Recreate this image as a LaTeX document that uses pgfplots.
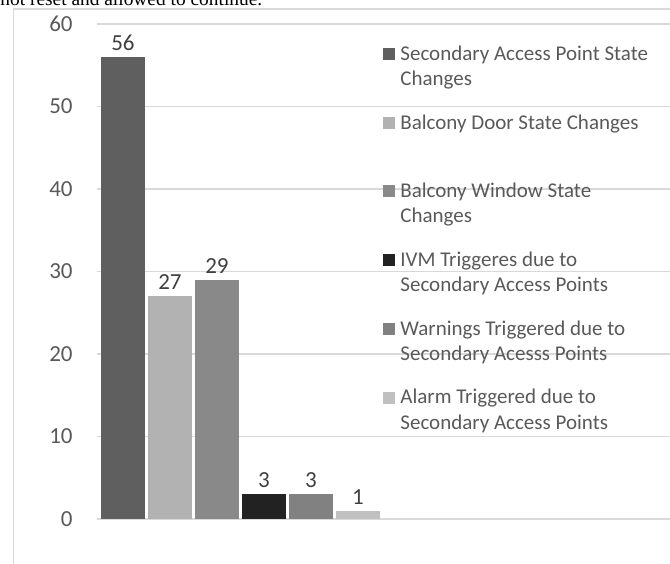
\documentclass[border=0pt]{standalone}
\usepackage{pgfplots}
\pgfplotsset{compat=1.18}
\usepackage{fontspec}
\setmainfont{Carlito}
\newfontfamily\timesfont{Liberation Serif}
\definecolor{c1}{HTML}{5F5F5F}
\definecolor{c2}{HTML}{B2B2B2}
\definecolor{c3}{HTML}{898989}
\definecolor{c4}{HTML}{222222}
\definecolor{c5}{HTML}{818181}
\definecolor{c6}{HTML}{C0C0C0}
\definecolor{gridc}{HTML}{D9D9D9}
\definecolor{txt}{HTML}{595959}
\definecolor{lbl}{HTML}{404040}
\newcommand{\legfont}{\fontsize{10.5pt}{12pt}\selectfont}
\newcommand{\legsq}[2]{\fill[#2] (191.5pt,#1) rectangle ++(6pt,6pt);}
\newcommand{\legtx}[2]{\node[anchor=base west, inner sep=0pt, font=\legfont, text=txt] at (200pt,#1) {#2};}
\begin{document}
\begin{tikzpicture}
\useasboundingbox (0,0) rectangle (335pt,-281.5pt);
\node[anchor=base west, inner sep=0pt, font=\timesfont\fontsize{9.7pt}{11pt}\selectfont] at (0pt,-2.5pt) {not reset and allowed to continue.};
\draw[gridc, line width=0.75pt] (6.75pt,-295pt) -- (6.75pt,-4.5pt) -- (345pt,-4.5pt);
\begin{axis}[
  at={(48.5pt,-259.5pt)}, anchor=south west,
  scale only axis, width=286.5pt, height=247.5pt,
  xmin=-0.553, xmax=11.638, ymin=0, ymax=60,
  ytick={0,10,...,60}, xtick=\empty,
  axis line style={draw=none},
  ymajorgrids, grid style={gridc, line width=0.75pt},
  major tick length=0pt,
  yticklabel style={inner sep=0pt, xshift=-12pt, font=\fontsize{11.5pt}{13pt}\selectfont, text=txt},
  /pgf/number format/assume math mode=true,
  ybar, bar width=22pt,
  nodes near coords,
  nodes near coords style={font=\fontsize{11.5pt}{13pt}\selectfont, text=lbl, anchor=south, inner sep=0pt, yshift=3pt},
  clip=false,
]
\addplot[fill=c1, draw=none, bar shift=0pt] coordinates {(0,56)};
\addplot[fill=c2, draw=none, bar shift=0pt] coordinates {(1,27)};
\addplot[fill=c3, draw=none, bar shift=0pt] coordinates {(2,29)};
\addplot[fill=c4, draw=none, bar shift=0pt] coordinates {(3,3)};
\addplot[fill=c5, draw=none, bar shift=0pt] coordinates {(4,3)};
\addplot[fill=c6, draw=none, bar shift=0pt] coordinates {(5,1)};
\end{axis}
\legsq{-30pt}{c1}
\legtx{-30pt}{Secondary Access Point State}
\legtx{-42.5pt}{Changes}
\legsq{-64.5pt}{c2}
\legtx{-64.5pt}{Balcony Door State Changes}
\legsq{-98.5pt}{c3}
\legtx{-98.5pt}{Balcony Window State}
\legtx{-111.25pt}{Changes}
\legsq{-133pt}{c4}
\legtx{-133pt}{IVM Triggeres due to}
\legtx{-145.75pt}{Secondary Access Points}
\legsq{-167.5pt}{c5}
\legtx{-167.5pt}{Warnings Triggered due to}
\legtx{-180.25pt}{Secondary Acesss Points}
\legsq{-201.75pt}{c6}
\legtx{-201.75pt}{Alarm Triggered due to}
\legtx{-214.5pt}{Secondary Access Points}
\end{tikzpicture}
\end{document}
